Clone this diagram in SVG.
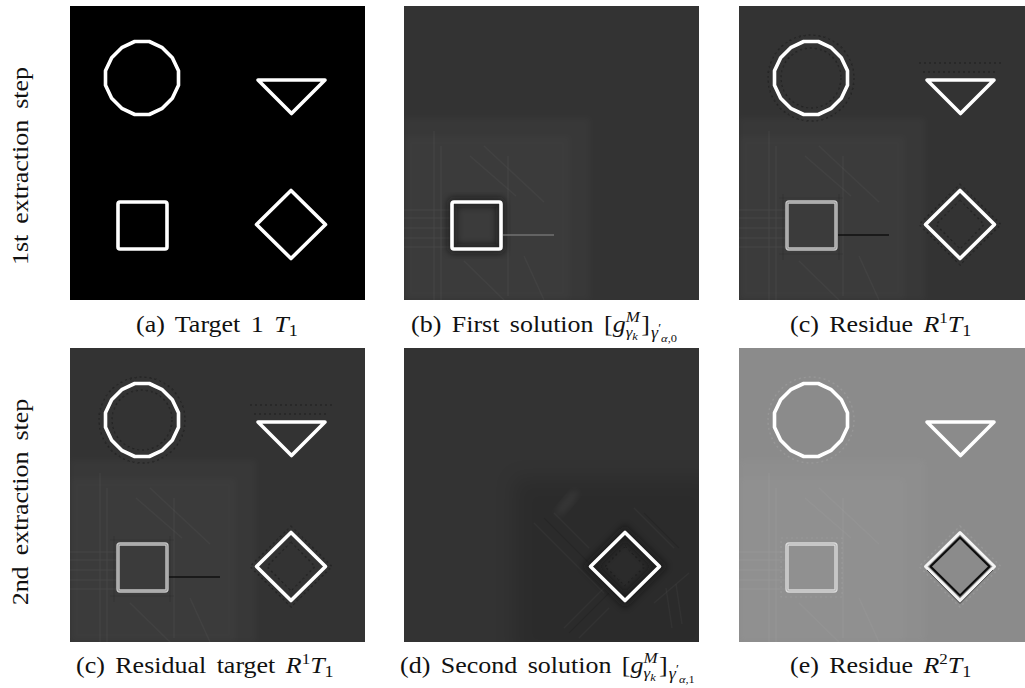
<svg xmlns="http://www.w3.org/2000/svg" width="1025" height="688" viewBox="0 0 1025 688">
  <style>
    .cap { font-size: 23px; fill: #111; word-spacing: 3.5px; }
    .lab { font-size: 23px; fill: #111; word-spacing: 4px; }
    .it { font-style: italic; }
    .wl { fill: none; stroke: #fff; stroke-width: 3.6; stroke-linejoin: round; }
    .gl { fill: none; stroke: #c4c4c4; stroke-width: 3.4; stroke-linejoin: round; }
    .dots { fill: none; stroke: #1c1c1c; stroke-width: 1.4; stroke-dasharray: 2 3; opacity: 0.55; }
    .streak { stroke: #fff; stroke-opacity: 0.035; stroke-width: 1.4; fill: none; }
    .dstreak { stroke: #000; stroke-opacity: 0.12; stroke-width: 1.2; fill: none; }
  </style>
  <defs>
    <filter id="soft" x="-10%" y="-10%" width="120%" height="120%"><feGaussianBlur stdDeviation="0.6"/></filter>
    <filter id="haze" x="-20%" y="-20%" width="140%" height="140%"><feGaussianBlur stdDeviation="3"/></filter>
    <filter id="fog" x="-30%" y="-30%" width="160%" height="160%"><feGaussianBlur stdDeviation="10"/></filter>
    <clipPath id="pclip"><rect x="0" y="0" width="295" height="294"/></clipPath>

    <!-- the four test shapes, in panel coordinates (16-gon for the rasterised circle) -->
    <polygon id="circ" points="108.5,79.26 102.35,92.28 92.28,102.35 79.26,108.5 64.74,108.5 51.72,102.35 41.65,92.28 35.5,79.26 35.5,64.74 41.65,51.72 51.72,41.65 64.74,35.5 79.26,35.5 92.28,41.65 102.35,51.72 108.5,64.74"/>
    <polygon id="tri" points="188,74 255,74 221.5,107.5"/>
    <rect id="sq" x="48" y="196" width="49" height="47" rx="2"/>
    <polygon id="dia" points="221,184.5 255.5,218.5 221,252.5 186.5,218.5"/>
    <polygon id="diaIn" points="221,189.5 250.5,218.5 221,247.5 191.5,218.5"/>

    <!-- reconstruction noise left in the lower-left quadrant -->
    <g id="llArt">
      <rect x="0" y="112" width="186" height="182" fill="#fff" opacity="0.025" filter="url(#haze)"/>
      <rect x="0" y="130" width="166" height="164" fill="#fff" opacity="0.015" filter="url(#haze)"/>
      <g class="streak" filter="url(#soft)">
        <line x1="30" y1="125" x2="30" y2="294"/>
        <line x1="37" y1="140" x2="37" y2="294"/>
        <line x1="104" y1="150" x2="104" y2="290"/>
        <line x1="0" y1="204" x2="46" y2="204"/>
        <line x1="0" y1="212" x2="46" y2="212"/>
        <line x1="0" y1="222" x2="46" y2="222"/>
        <line x1="0" y1="232" x2="46" y2="232"/>
        <line x1="0" y1="241" x2="46" y2="241"/>
        <line x1="66" y1="150" x2="112" y2="190"/>
        <line x1="80" y1="140" x2="140" y2="196"/>
        <line x1="60" y1="255" x2="100" y2="294"/>
        <line x1="120" y1="250" x2="140" y2="294"/>
      </g>
    </g>

    <!-- dotted ringing around the strong edges -->
    <g id="halos">
      <circle cx="72" cy="72" r="43" class="dots"/>
      <circle cx="72" cy="72" r="30" class="dots"/>
      <line x1="180" y1="57" x2="262" y2="57" class="dots"/>
      <line x1="184" y1="66" x2="258" y2="66" class="dots"/>
      <polygon points="221,178 262,218.5 221,259 180,218.5" class="dots"/>
      <polygon points="221,194 245,218.5 221,243 197,218.5" class="dots"/>
    </g>

    <!-- residue panel after the first extraction -->
    <g id="residue1">
      <rect x="0" y="0" width="295" height="294" fill="#333"/>
      <use href="#llArt"/>
      <g class="dstreak" filter="url(#soft)">
        <line x1="44" y1="188" x2="44" y2="254"/>
        <line x1="100" y1="188" x2="100" y2="254"/>
        <line x1="40" y1="192" x2="104" y2="192"/>
        <line x1="40" y1="248" x2="104" y2="248"/>
      </g>
      <g filter="url(#soft)">
        <use href="#halos"/>
      </g>
      <g filter="url(#soft)">
        <use href="#circ" class="wl"/>
        <use href="#tri" class="wl"/>
        <use href="#sq" class="gl"/>
        <use href="#sq" fill="none" stroke="#8a8a8a" stroke-width="0.8"/>
        <line x1="99" y1="229" x2="150" y2="229" stroke="#161616" stroke-width="1.4"/>
        <use href="#dia" class="wl"/>
      </g>
    </g>
  </defs>

  <!-- row 1 : first extraction step -->
  <g id="panel-a" transform="translate(70,6)" clip-path="url(#pclip)">
    <rect x="0" y="0" width="295" height="294" fill="#000"/>
    <g filter="url(#soft)">
      <use href="#circ" class="wl"/>
      <use href="#tri" class="wl"/>
      <use href="#sq" class="wl"/>
      <use href="#dia" class="wl"/>
    </g>
  </g>

  <g id="panel-b" transform="translate(404,6)" clip-path="url(#pclip)">
    <rect x="0" y="0" width="295" height="294" fill="#333"/>
    <use href="#llArt"/>
    <use href="#sq" fill="none" stroke="#111" stroke-width="10" opacity="0.5" filter="url(#haze)"/>
    <g filter="url(#soft)">
      <use href="#sq" class="wl"/>
      <line x1="99" y1="229" x2="150" y2="229" stroke="#8c8c8c" stroke-width="1.2"/>
    </g>
  </g>

  <g id="panel-c" transform="translate(739,6)" clip-path="url(#pclip)">
    <use href="#residue1"/>
  </g>

  <!-- row 2 : second extraction step -->
  <g id="panel-c2" transform="translate(70,348)" clip-path="url(#pclip)">
    <use href="#residue1"/>
  </g>

  <g id="panel-d" transform="translate(404,348)" clip-path="url(#pclip)">
    <rect x="0" y="0" width="295" height="294" fill="#333"/>
    <rect x="110" y="130" width="200" height="180" fill="#000" opacity="0.14" filter="url(#fog)"/>
    <ellipse cx="163" cy="155" rx="16" ry="5" transform="rotate(-50 163 155)" fill="#fff" opacity="0.05" filter="url(#haze)"/>
    <g class="streak" filter="url(#soft)">
      <line x1="130" y1="175" x2="200" y2="245"/>
      <line x1="150" y1="165" x2="185" y2="200"/>
      <line x1="230" y1="160" x2="270" y2="200"/>
      <line x1="160" y1="280" x2="200" y2="240"/>
      <line x1="175" y1="290" x2="205" y2="260"/>
      <line x1="250" y1="255" x2="285" y2="225"/>
      <line x1="262" y1="240" x2="268" y2="280"/>
      <line x1="272" y1="236" x2="278" y2="276"/>
    </g>
    <g class="dstreak" filter="url(#soft)">
      <line x1="140" y1="170" x2="195" y2="225"/>
      <line x1="165" y1="285" x2="205" y2="245"/>
      <line x1="240" y1="165" x2="275" y2="200"/>
    </g>
    <use href="#dia" fill="none" stroke="#0c0c0c" stroke-width="12" opacity="0.45" filter="url(#haze)"/>
    <g filter="url(#soft)">
      <polygon points="221,198 241,218.5 221,238 201,218.5" class="dots"/>
      <use href="#dia" class="wl"/>
    </g>
  </g>

  <g id="panel-e" transform="translate(739,348)" clip-path="url(#pclip)">
    <rect x="0" y="0" width="295" height="294" fill="#8b8b8b"/>
    <use href="#llArt"/>
    <g filter="url(#soft)" opacity="0.45">
      <circle cx="72" cy="72" r="43" fill="none" stroke="#a6a6a6" stroke-width="1.4" stroke-dasharray="2 3"/>
      <polygon points="221,178 262,218.5 221,259 180,218.5" fill="none" stroke="#a6a6a6" stroke-width="1.4" stroke-dasharray="2 3"/>
      <rect x="42" y="190" width="61" height="59" fill="none" stroke="#a6a6a6" stroke-width="1.2" stroke-dasharray="2 3"/>
    </g>
    <g filter="url(#soft)">
      <use href="#circ" class="wl"/>
      <use href="#tri" class="wl"/>
      <use href="#sq" fill="none" stroke="#dadada" stroke-width="3.4"/>
      <use href="#sq" fill="none" stroke="#a9a9a9" stroke-width="0.8"/>
      <use href="#dia" fill="none" stroke="#f4f4f4" stroke-width="3" stroke-linejoin="round"/>
      <use href="#diaIn" fill="none" stroke="#101010" stroke-width="2.2" stroke-linejoin="round"/>
      <polyline points="188,222 221,255.5 254,222" fill="none" stroke="#4a4a4a" stroke-width="0.9"/>
    </g>
  </g>

  <!-- row labels -->
  <g id="row-labels" font-family="Times New Roman, Liberation Serif, serif">
    <text class="lab" text-anchor="middle" transform="translate(28,166) rotate(-90) scale(1.13,1)">1st extraction step</text>
    <text class="lab" text-anchor="middle" transform="translate(28,502) rotate(-90) scale(1.13,1)">2nd extraction step</text>
  </g>

  <!-- sub-figure captions -->
  <g id="captions" font-family="Times New Roman, Liberation Serif, serif">
    <g transform="translate(136,332) scale(1.13,1)">
      <text class="cap">(a) Target 1 <tspan class="it">T</tspan><tspan font-size="16" y="4">1</tspan></text>
    </g>
    <g transform="translate(411,332) scale(1.13,1)">
      <text class="cap">(b) First solution [<tspan class="it">g</tspan><tspan class="it" font-size="15" y="-10">M</tspan><tspan class="it" font-size="15" dx="-12.5" y="5">γ</tspan><tspan class="it" font-size="11" y="8">k</tspan><tspan dx="3" y="0">]</tspan><tspan class="it" font-size="16" dx="1" y="6">γ</tspan><tspan font-size="12" y="0">′</tspan><tspan class="it" font-size="11" y="10">α</tspan><tspan font-size="11">,0</tspan></text>
    </g>
    <g transform="translate(790,332) scale(1.13,1)">
      <text class="cap">(c) Residue <tspan class="it">R</tspan><tspan font-size="15" y="-9">1</tspan><tspan class="it" y="0">T</tspan><tspan font-size="16" y="4">1</tspan></text>
    </g>
    <g transform="translate(76,673) scale(1.13,1)">
      <text class="cap">(c) Residual target <tspan class="it">R</tspan><tspan font-size="15" y="-9">1</tspan><tspan class="it" y="0">T</tspan><tspan font-size="16" y="4">1</tspan></text>
    </g>
    <g transform="translate(400,673) scale(1.13,1)">
      <text class="cap">(d) Second solution [<tspan class="it">g</tspan><tspan class="it" font-size="15" y="-10">M</tspan><tspan class="it" font-size="15" dx="-12.5" y="5">γ</tspan><tspan class="it" font-size="11" y="8">k</tspan><tspan dx="3" y="0">]</tspan><tspan class="it" font-size="16" dx="1" y="6">γ</tspan><tspan font-size="12" y="0">′</tspan><tspan class="it" font-size="11" y="10">α</tspan><tspan font-size="11">,1</tspan></text>
    </g>
    <g transform="translate(790,673) scale(1.13,1)">
      <text class="cap">(e) Residue <tspan class="it">R</tspan><tspan font-size="15" y="-9">2</tspan><tspan class="it" y="0">T</tspan><tspan font-size="16" y="4">1</tspan></text>
    </g>
  </g>
</svg>
